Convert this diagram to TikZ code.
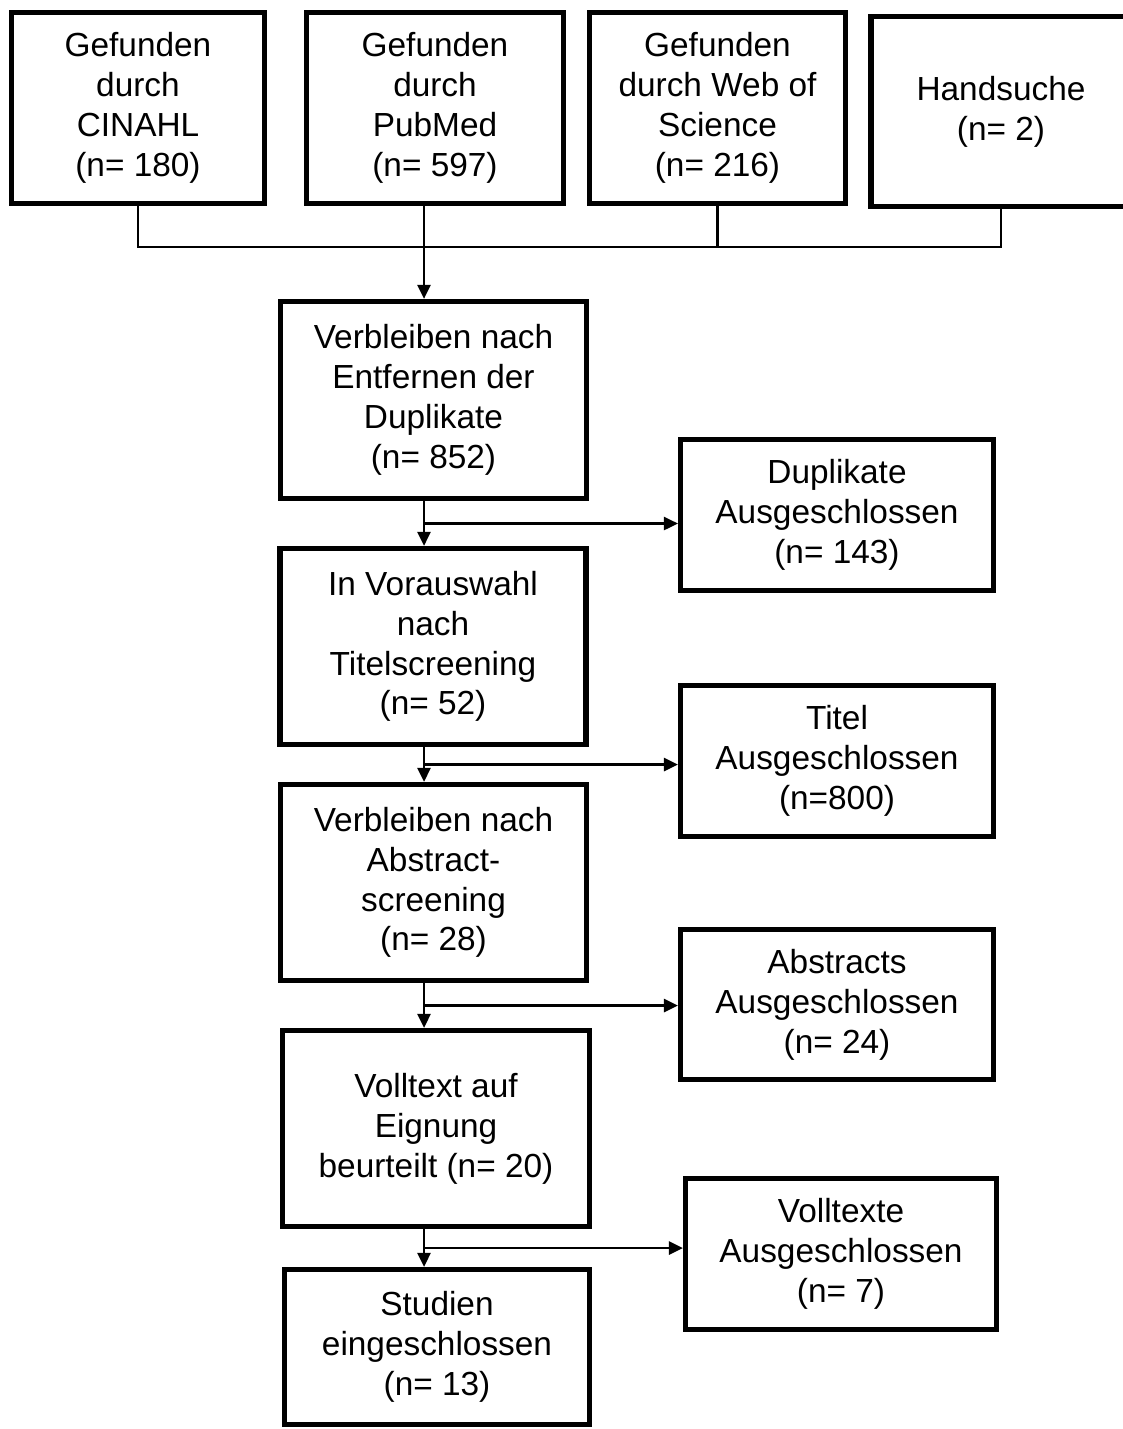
\documentclass[tikz,border=0pt]{standalone}
\usepackage{fontspec}
\setmainfont{Liberation Sans}
\usetikzlibrary{arrows.meta,positioning,calc}

\begin{document}
\begin{tikzpicture}[x=0.02cm,y=-0.02cm,
    box/.style={draw,line width=3pt,inner sep=0pt,align=center,font=\fontsize{19}{22.7}\selectfont},
    conn/.style={line width=1.4pt},
    >={Triangle[length=8pt,width=7.5pt]}]
    \useasboundingbox (0,0) rectangle (1122,1429);
    % Quellen
    \node[box,minimum width=5.06cm,minimum height=3.82cm] (cinahl) at (138,108) {Gefunden\\durch\\CINAHL\\(n= 180)};
    \node[box,minimum width=5.14cm,minimum height=3.82cm] (pubmed) at (435,108) {Gefunden\\durch\\PubMed\\(n= 597)};
    \node[box,minimum width=5.12cm,minimum height=3.82cm] (wos) at (717.5,108) {Gefunden\\durch Web of\\Science\\(n= 216)};
    \node[box,minimum width=5.2cm,minimum height=3.8cm] (hand) at (1001,111.5) {Handsuche\\(n= 2)};
    % Hauptstrang
    \node[box,minimum width=6.12cm,minimum height=3.94cm] (dedup) at (433.5,400) {Verbleiben nach\\Entfernen der\\Duplikate\\(n= 852)};
    \node[box,minimum width=6.12cm,minimum height=3.92cm] (titel) at (433,646.5) {In Vorauswahl\\nach\\Titelscreening\\(n= 52)};
    \node[box,minimum width=6.12cm,minimum height=3.92cm] (abstr) at (433.5,882.5) {Verbleiben nach\\Abstract-\\screening\\(n= 28)};
    \node[box,minimum width=6.14cm,minimum height=3.92cm] (voll) at (436,1128.5) {Volltext auf\\Eignung\\beurteilt (n= 20)};
    \node[box,minimum width=6.1cm,minimum height=3.1cm] (incl) at (437,1347) {Studien\\eingeschlossen\\(n= 13)};
    % Ausschluesse
    \node[box,minimum width=6.26cm,minimum height=3.02cm] (dupex) at (837,515) {Duplikate\\Ausgeschlossen\\(n= 143)};
    \node[box,minimum width=6.26cm,minimum height=3.02cm] (titex) at (837,761) {Titel\\Ausgeschlossen\\(n=800)};
    \node[box,minimum width=6.26cm,minimum height=3.0cm] (absex) at (837,1004.5) {Abstracts\\Ausgeschlossen\\(n= 24)};
    \node[box,minimum width=6.22cm,minimum height=3.02cm] (vollex) at (841,1254) {Volltexte\\Ausgeschlossen\\(n= 7)};

    \coordinate (bus) at (0,247);
    \coordinate (spine) at (424,0);
    \draw[conn] (cinahl.south) |- (bus -| hand.south) -- (hand.south);
    \draw[conn] (wos.south) -- (wos.south |- bus);
    \draw[conn,->] (pubmed.south -| spine) -- (dedup.north -| spine);

    \coordinate (j1) at ($(dedup.south)!0.5!(titel.north)$);
    \coordinate (j2) at ($(titel.south)!0.5!(abstr.north)$);
    \coordinate (j3) at ($(abstr.south)!0.5!(voll.north)$);
    \coordinate (j4) at ($(voll.south)!0.5!(incl.north)$);
    \draw[conn,->] (dedup.south -| spine) -- (titel.north -| spine);
    \draw[conn,->] (j1 -| spine) -- (j1 -| dupex.west);
    \draw[conn,->] (titel.south -| spine) -- (abstr.north -| spine);
    \draw[conn,->] (j2 -| spine) -- (j2 -| titex.west);
    \draw[conn,->] (abstr.south -| spine) -- (voll.north -| spine);
    \draw[conn,->] (j3 -| spine) -- (j3 -| absex.west);
    \draw[conn,->] (voll.south -| spine) -- (incl.north -| spine);
    \draw[conn,->] (j4 -| spine) -- (j4 -| vollex.west);
\end{tikzpicture}
\end{document}
